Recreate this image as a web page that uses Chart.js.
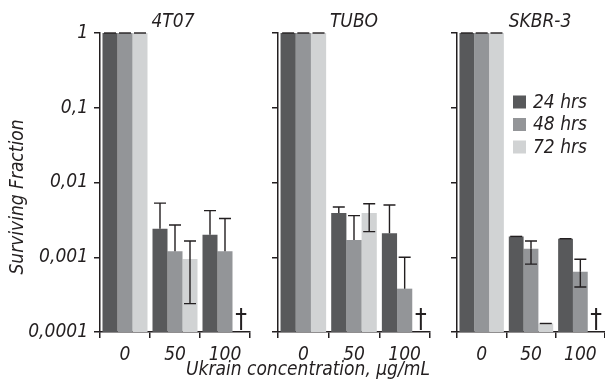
<!DOCTYPE html>
<html>
<head>
<meta charset="utf-8">
<script src="https://cdn.jsdelivr.net/npm/chart.js@4.4.0/dist/chart.umd.min.js"></script>
<style>
    body { margin: 0; background: #fff; }
    #wrap { position: relative; width: 605px; height: 386px; overflow: hidden; }
    canvas { position: absolute; top: 0; }
    #xTitle {
        position: absolute; left: 108px; width: 400px; top: 357px;
        text-align: center; font: italic 19px 'Liberation Sans Narrow', 'DejaVu Sans Condensed', 'Liberation Sans', sans-serif;
        color: #231f20; line-height: 22px;
    }
</style>
</head>
<body>
<div id="wrap">
    <canvas id="panel1" width="262" height="386" style="left:0px"></canvas>
    <canvas id="panel2" width="172" height="386" style="left:268px"></canvas>
    <canvas id="panel3" width="158" height="386" style="left:447px"></canvas>
    <div id="xTitle">Ukrain concentration, µg/mL</div>
</div>
<script>
const doses = ['0', '50', '100'];
const hours = ['24 hrs', '48 hrs', '72 hrs'];
const cellLines = ['4T07', 'TUBO', 'SKBR-3'];
const yTicks = [1, 0.1, 0.01, 0.001, 0.0001];
const yTickLabels = ['1', '0,1', '0,01', '0,001', '0,0001'];

// surviving fraction per time point (24 / 48 / 72 hrs), null = not measured (†)
const mean4T07 = [[1, 0.0024, 0.0020], [1, 0.0012, 0.0012], [1, 0.00095, null]];
const upper4T07 = [[1, 0.0053, 0.0042], [1, 0.0027, 0.0033], [1, 0.00165, null]];
const lower4T07 = [[null, null, null], [null, null, null], [null, 0.00024, null]];

const meanTUBO = [[1, 0.0039, 0.0021], [1, 0.0017, 0.00038], [1, 0.0039, null]];
const upperTUBO = [[1, 0.0047, 0.0050], [1, 0.0036, 0.0010], [1, 0.0052, null]];
const lowerTUBO = [[null, null, null], [null, null, null], [null, 0.0022, null]];

const meanSKBR = [[1, 0.0019, 0.00177], [1, 0.0013, 0.00064], [1, 0.00013, null]];
const upperSKBR = [[1, 0.0019, 0.00177], [1, 0.00165, 0.00094], [1, 0.00013, null]];
const lowerSKBR = [[null, null, null], [null, 0.00081, 0.0004], [null, null, null]];

const FONT = "'Liberation Sans Narrow', 'DejaVu Sans Condensed', 'Liberation Sans', sans-serif";
const INK = '#231f20';
const hourColors = ['#58595b', '#939598', '#d1d3d4'];

// error bars, daggers, panel title, y title and legend
const panelDeco = {
    id: 'panelDeco',
    afterDatasetsDraw(chart, args, opts) {
        const ctx = chart.ctx;
        const area = chart.chartArea;
        const yScale = chart.scales.y;
        ctx.save();
        ctx.strokeStyle = INK;
        ctx.fillStyle = INK;
        ctx.lineWidth = 1.4;

        chart.data.datasets.forEach((ds, i) => {
            const meta = chart.getDatasetMeta(i);
            meta.data.forEach((bar, j) => {
                const v = ds.data[j];
                if (v == null) {
                    ctx.font = '26px ' + FONT;
                    ctx.textAlign = 'center';
                    ctx.textBaseline = 'alphabetic';
                    ctx.fillText('†', bar.x + 1, area.bottom - 4);
                    return;
                }
                const hi = ds.upper[j];
                const lo = ds.lower[j];
                const half = 6;
                const yv = yScale.getPixelForValue(v);
                if (hi != null) {
                    const yh = yScale.getPixelForValue(hi);
                    ctx.beginPath();
                    ctx.moveTo(bar.x, yv); ctx.lineTo(bar.x, yh);
                    ctx.moveTo(bar.x - half, yh); ctx.lineTo(bar.x + half, yh);
                    ctx.stroke();
                }
                if (lo != null) {
                    const yl = yScale.getPixelForValue(lo);
                    ctx.beginPath();
                    ctx.moveTo(bar.x, yv); ctx.lineTo(bar.x, yl);
                    ctx.moveTo(bar.x - half, yl); ctx.lineTo(bar.x + half, yl);
                    ctx.stroke();
                }
            });
        });

        // panel title
        ctx.font = 'italic 19px ' + FONT;
        ctx.textAlign = 'center';
        ctx.textBaseline = 'alphabetic';
        ctx.fillText(opts.title, (area.left + area.right) / 2 + (opts.titleDx || 0), 27);

        if (opts.yTitle) {
            ctx.save();
            ctx.translate(18, 197);
            ctx.rotate(-Math.PI / 2);
            ctx.textBaseline = 'middle';
            ctx.fillText(opts.yTitle, 0, 0);
            ctx.restore();
        }

        if (opts.legend) {
            const lx = area.left + 56;
            ctx.textAlign = 'left';
            ctx.textBaseline = 'middle';
            chart.data.datasets.forEach((ds, i) => {
                const cy = 102 + i * 22.5;
                ctx.fillStyle = ds.backgroundColor;
                ctx.fillRect(lx, cy - 6.5, 13, 13);
                ctx.fillStyle = INK;
                ctx.fillText(ds.label, lx + 20, cy + 1);
            });
        }
        ctx.restore();
    }
};

function makePanel(canvasId, title, means, uppers, lowers, cfg) {
    return new Chart(document.getElementById(canvasId), {
        type: 'bar',
        data: {
            labels: doses,
            datasets: hours.map((h, k) => ({
                label: h,
                data: means[k],
                upper: uppers[k],
                lower: lowers[k],
                backgroundColor: hourColors[k],
                borderWidth: 0,
                categoryPercentage: 0.9,
                barPercentage: 1.0
            }))
        },
        options: {
            responsive: false,
            animation: false,
            devicePixelRatio: 1,
            layout: { padding: { top: 33, right: cfg.padRight, left: 0, bottom: 0 } },
            plugins: {
                legend: { display: false },
                tooltip: { enabled: false },
                panelDeco: { title: title, titleDx: cfg.titleDx, yTitle: cfg.yTitle, legend: cfg.legend }
            },
            scales: {
                x: {
                    type: 'category',
                    offset: true,
                    afterFit: (scale) => { scale.height = 54; },
                    border: { display: true, color: INK, width: 1.5 },
                    grid: { offset: true, drawOnChartArea: false, drawTicks: true, tickLength: 6, color: INK, lineWidth: 1.5 },
                    ticks: { color: INK, padding: 6, font: { family: FONT, size: 19, style: 'italic' } }
                },
                y: {
                    type: 'logarithmic',
                    min: 0.0001,
                    max: 1,
                    afterFit: (scale) => { scale.width = cfg.yWidth; },
                    afterBuildTicks: (scale) => { scale.ticks = yTicks.map(v => ({ value: v })); },
                    border: { display: true, color: INK, width: 1.5 },
                    grid: { drawOnChartArea: false, drawTicks: true, tickLength: 6, color: INK, lineWidth: 1.5 },
                    ticks: {
                        display: cfg.yLabels,
                        color: INK,
                        padding: 6,
                        font: { family: FONT, size: 19, style: 'italic' },
                        callback: (value) => yTickLabels[yTicks.indexOf(value)]
                    }
                }
            }
        },
        plugins: [panelDeco]
    });
}

makePanel('panel1', cellLines[0], mean4T07, upper4T07, lower4T07,
    { yWidth: 100, padRight: 12, titleDx: -2, yTitle: 'Surviving Fraction', yLabels: true, legend: false });
makePanel('panel2', cellLines[1], meanTUBO, upperTUBO, lowerTUBO,
    { yWidth: 10, padRight: 10, titleDx: 0, yLabels: false, legend: false });
makePanel('panel3', cellLines[2], meanSKBR, upperSKBR, lowerSKBR,
    { yWidth: 10, padRight: 0, titleDx: 9, yLabels: false, legend: true });
</script>
</body>
</html>
